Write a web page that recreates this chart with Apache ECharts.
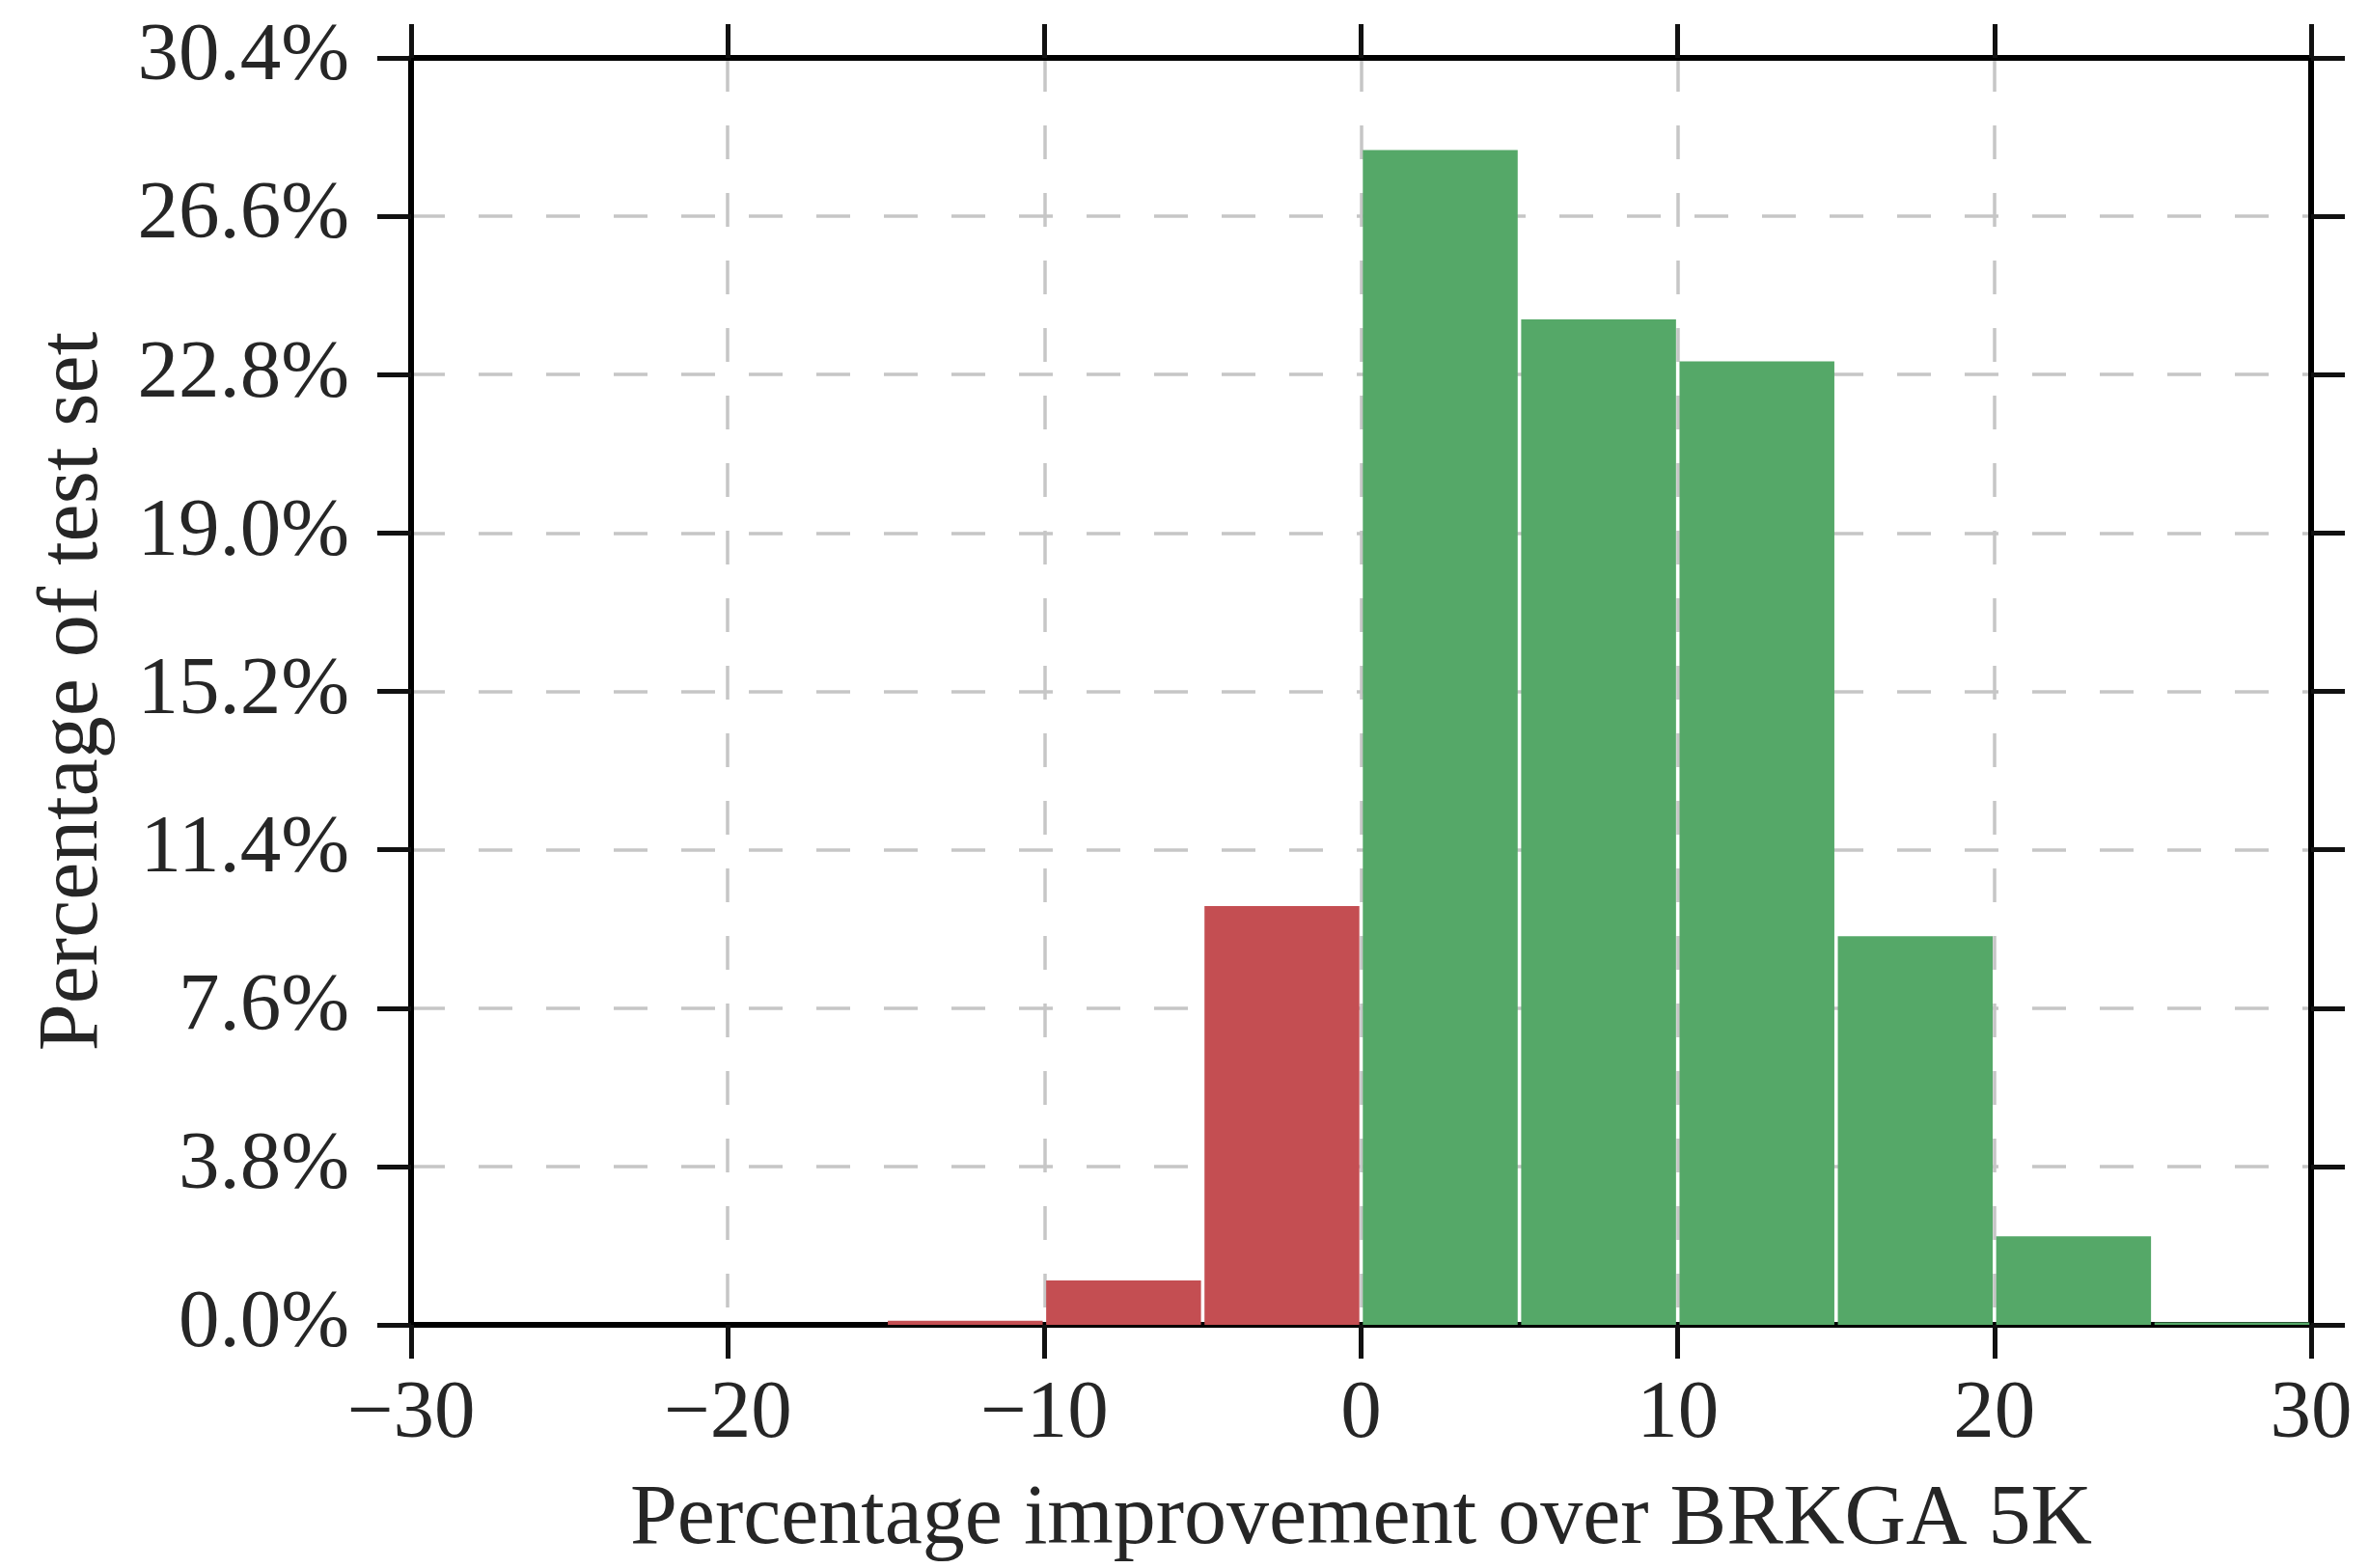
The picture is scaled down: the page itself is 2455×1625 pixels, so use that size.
<!DOCTYPE html>
<html>
<head>
<meta charset="utf-8">
<script src="https://cdn.jsdelivr.net/npm/echarts@6/dist/echarts.min.js"></script>
<style>
html,body{margin:0;padding:0;background:#fff;}
#chart{width:2455px;height:1625px;}
</style>
</head>
<body>
<div id="chart"></div>
<script>
// Histogram bins (percentage improvement over BRKGA 5K)
const binStarts = [-30, -25, -20, -15, -10, -5, 0, 5, 10, 15, 20, 25];
const binEnds   = [-25, -20, -15, -10, -5, 0, 5, 10, 15, 20, 25, 30];
// Percentage of test set in each bin
const binValues = [0, 0, 0, 0.12, 1.09, 10.07, 28.21, 24.15, 23.14, 9.35, 2.15, 0.08];
const yTicks = {min: 0, max: 30.4, interval: 3.8};
const xTicks = {min: -30, max: 30, interval: 10};
const xTitle = 'Percentage improvement over BRKGA 5K';
const yTitle = 'Percentage of test set';

const RED = '#C44E52', GREEN = '#55A868';
const FONT = '"Liberation Serif", "Times New Roman", serif';
const TXT = '#262626';

const data = binStarts.map((s, i) => [s, binEnds[i], binValues[i]]);

const chart = echarts.init(document.getElementById('chart'), null, {renderer: 'canvas'});

const axisLineStyle = {color: '#000', width: 6};
const tickStyle = {show: true, inside: false, length: 35, lineStyle: {color: '#111', width: 5}};
const gridLine = {show: true, lineStyle: {color: '#c6c6c6', width: 3.5, type: [35, 35]}};

chart.setOption({
  animation: false,
  backgroundColor: '#fff',
  grid: {left: 426, right: 60, top: 60, bottom: 252, containLabel: false},
  xAxis: [{
    type: 'value', position: 'bottom',
    min: xTicks.min, max: xTicks.max, interval: xTicks.interval,
    axisLine: {show: true, onZero: false, lineStyle: axisLineStyle},
    axisTick: tickStyle,
    splitLine: gridLine,
    axisLabel: {
      margin: 51, color: TXT, fontFamily: FONT, fontSize: 85,
      formatter: v => String(v).replace('-', '\u2212')
    },
    name: xTitle, nameLocation: 'middle', nameGap: 159,
    nameTextStyle: {color: TXT, fontFamily: FONT, fontSize: 88}
  }, {
    type: 'value', position: 'top',
    min: xTicks.min, max: xTicks.max, interval: xTicks.interval,
    axisLine: {show: true, onZero: false, lineStyle: axisLineStyle},
    axisTick: tickStyle,
    splitLine: {show: false},
    axisLabel: {show: false}
  }],
  yAxis: [{
    type: 'value', position: 'left',
    min: yTicks.min, max: yTicks.max, interval: yTicks.interval,
    axisLine: {show: true, onZero: false, lineStyle: axisLineStyle},
    axisTick: tickStyle,
    splitLine: gridLine,
    axisLabel: {
      margin: 64, color: TXT, fontFamily: FONT, fontSize: 85,
      formatter: v => v.toFixed(1) + '%'
    },
    name: yTitle, nameLocation: 'middle', nameGap: 305,
    nameTextStyle: {color: TXT, fontFamily: FONT, fontSize: 88}
  }, {
    type: 'value', position: 'right',
    min: yTicks.min, max: yTicks.max, interval: yTicks.interval,
    axisLine: {show: true, onZero: false, lineStyle: axisLineStyle},
    axisTick: tickStyle,
    splitLine: {show: false},
    axisLabel: {show: false}
  }],
  series: [{
    type: 'custom',
    xAxisIndex: 0, yAxisIndex: 0,
    data: data,
    encode: {x: [0, 1], y: 2},
    renderItem: function (params, api) {
      const x0 = api.value(0), x1 = api.value(1), v = api.value(2);
      if (!(v > 0)) return null;
      const pTop = api.coord([x0, v]);
      const pBot = api.coord([x1, 0]);
      const inset = 1.8;
      const h = pBot[1] - pTop[1] - 1;
      return {
        type: 'rect',
        shape: {x: pTop[0] + inset, y: pTop[1] + 1, width: pBot[0] - pTop[0] - 2 * inset, height: Math.max(h, 0)},
        style: {fill: x1 <= 0 ? RED : GREEN}
      };
    },
    z: 2
  }]
});
</script>
</body>
</html>
